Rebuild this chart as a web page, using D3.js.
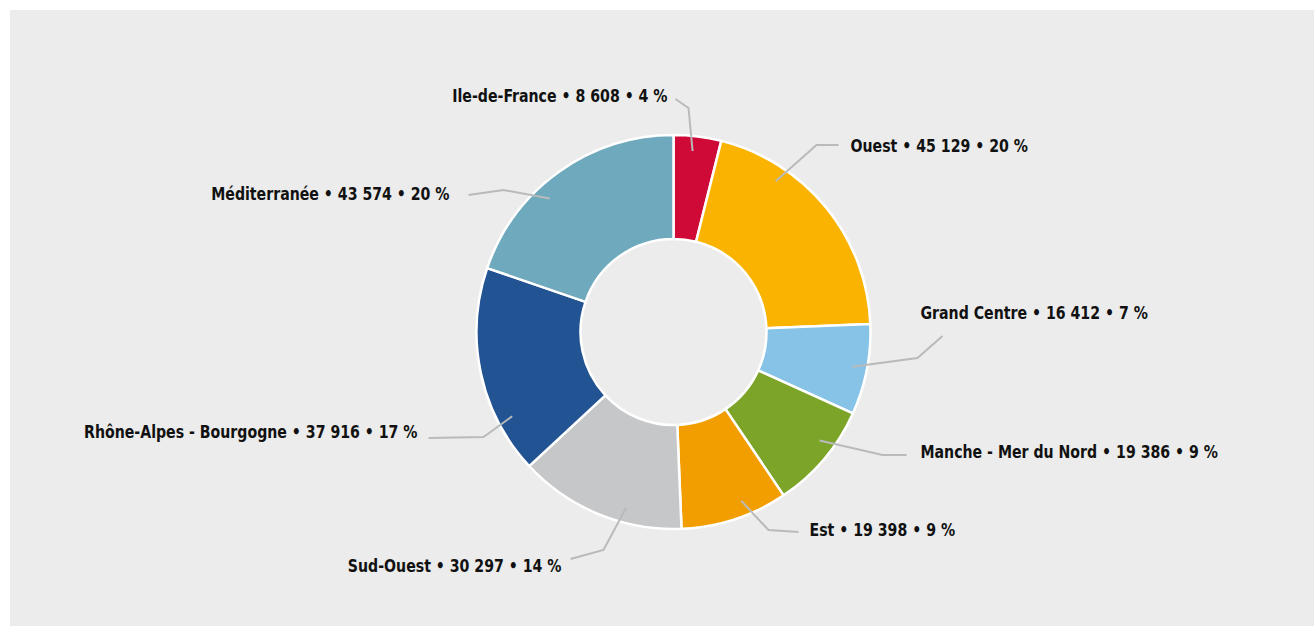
<!DOCTYPE html>
<html>
<head>
<meta charset="utf-8">
<script src="https://cdn.jsdelivr.net/npm/d3@7"></script>
<style>
	html, body { margin: 0; padding: 0; background: #ffffff; }
	svg { display: block; }
	.donut-label { font-family: "Liberation Sans Narrow", "DejaVu Sans Condensed", "Roboto", sans-serif; font-weight: bold; font-size: 17px; fill: #111111; }
</style>
</head>
<body>
<svg id="chart" width="1314" height="626"></svg>
<script>

// Data
var aRegions = ['Ile-de-France', 'Ouest', 'Grand Centre', 'Manche - Mer du Nord', 'Est', 'Sud-Ouest', 'Rhône-Alpes - Bourgogne', 'Méditerranée'];
var aValues = [8608, 45129, 16412, 19386, 19398, 30297, 37916, 43574];
var aPercents = [4, 20, 7, 9, 9, 14, 17, 20];
var aColors = ['#cf0a37', '#f9b300', '#87c3e6', '#7ba428', '#f39e00', '#c6c7c9', '#225393', '#6fa9bd'];

// Label placement (layout only): angle nudge of the leader start, elbow and end offsets, text offset
var aLabelLayout = [
	{ nudge: -1,   elbow: [15, -224],  end: [2, -233],   text: [-6, -236],  anchor: 'end' },
	{ nudge: -16.7, elbow: [143, -187], end: [165, -187], text: [177, -186], anchor: 'start' },
	{ nudge: 0,    elbow: [244, 26],   end: [269, 4],    text: [247, -19],  anchor: 'start' },
	{ nudge: -3.6, elbow: [209, 123],  end: [233, 123],  text: [247, 120],  anchor: 'start' },
	{ nudge: -3.7, elbow: [95, 198],   end: [125, 200],  text: [136, 198],  anchor: 'start' },
	{ nudge: -7.3, elbow: [-70, 218],  end: [-103, 227], text: [-112, 234], anchor: 'end' },
	{ nudge: -15.6, elbow: [-190, 105], end: [-245, 106], text: [-256, 100], anchor: 'end' },
	{ nudge: -7.3, elbow: [-170, -142], end: [-205, -137], text: [-224, -138], anchor: 'end' }
];

var sSvg = d3.select('#chart');

// Background panel
sSvg.append('rect')
	.attr('x', 10)
	.attr('y', 10)
	.attr('width', 1304)
	.attr('height', 616)
	.attr('fill', '#ebeceb');

var nCenterX = 673.5;
var nCenterY = 332;
var nOuter = 197;
var nInner = 93;
var nLeaderRadius = 182;
var fTextSqueeze = 0.925;

var aData = aRegions.map(function(strName, nIndex)
{
	return { name: strName, value: aValues[nIndex], pct: aPercents[nIndex], color: aColors[nIndex], layout: aLabelLayout[nIndex] };
});

var pie = d3.pie()
	.sort(null)
	.value(function(row) { return row.value; });

var arc = d3.arc()
	.innerRadius(nInner)
	.outerRadius(nOuter);

var sChart = sSvg.append('g')
	.attr('transform', 'translate(' + nCenterX + ',' + nCenterY + ')');

var aArcs = pie(aData);

sChart.selectAll('.slice')
	.data(aArcs)
	.enter()
		.append('path')
			.attr('class', 'slice')
			.attr('d', arc)
			.attr('fill', function(d) { return d.data.color; })
			.attr('stroke', '#ffffff')
			.attr('stroke-width', 2.5)
			.attr('stroke-linejoin', 'round');

var fmtNumber = d3.formatLocale({ decimal: ',', thousands: ' ', grouping: [3], currency: ['', ''] }).format(',d');

function FormatLabel(row)
{
	return row.name + ' \u2022 ' + fmtNumber(row.value) + ' \u2022 ' + row.pct + ' %';
}

// Leader lines and labels
aArcs.forEach(function(d)
{
	var oLayout = d.data.layout;
	var fAngle = (d.startAngle + d.endAngle) / 2 + oLayout.nudge * Math.PI / 180;
	var aStart = [nLeaderRadius * Math.sin(fAngle), -nLeaderRadius * Math.cos(fAngle)];

	sChart.append('polyline')
		.attr('points', [aStart, oLayout.elbow, oLayout.end].map(function(p) { return p.join(','); }).join(' '))
		.attr('fill', 'none')
		.attr('stroke', '#b9babb')
		.attr('stroke-width', 2);

	sChart.append('g')
		.attr('transform', 'translate(' + oLayout.text[0] + ',' + oLayout.text[1] + ') scale(' + fTextSqueeze + ',1)')
		.append('text')
			.attr('class', 'donut-label')
			.attr('dy', '0.36em')
			.attr('text-anchor', oLayout.anchor)
			.text(FormatLabel(d.data));
});

</script>
</body>
</html>
